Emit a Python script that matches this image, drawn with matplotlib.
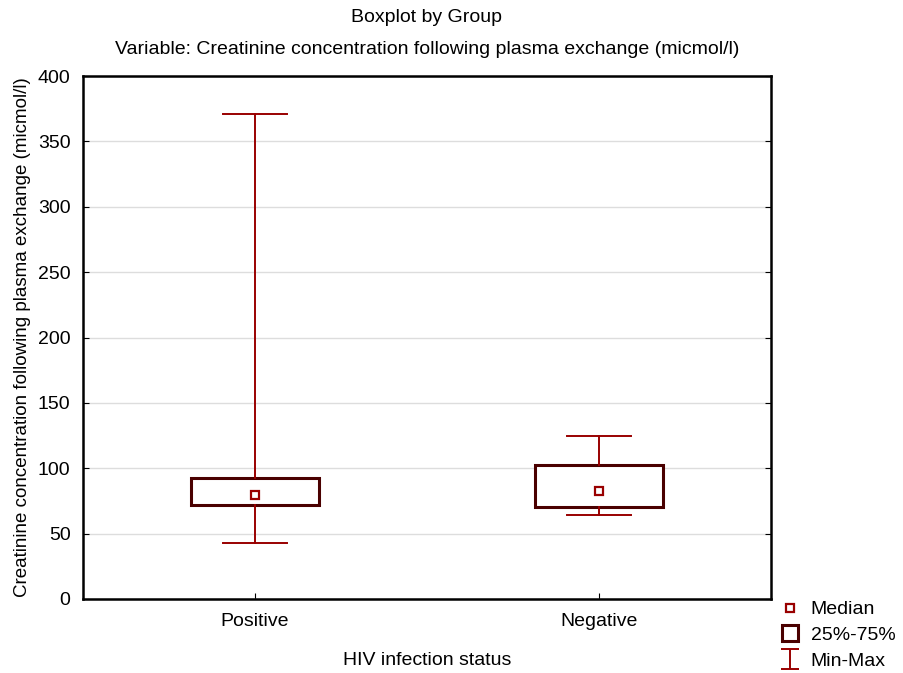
import matplotlib.pyplot as plt
from matplotlib.lines import Line2D
from matplotlib.path import Path

plt.rcParams['font.family'] = ['Liberation Sans', 'DejaVu Sans']

# Data
groups = ['Positive', 'Negative']
q_min = [43, 64]
q1 = [72, 70]
median = [79.5, 82.5]
q3 = [92.5, 102.5]
q_max = [371, 125]

box_color = '#4a0000'
whisk_color = '#990000'
fs = 14

fig = plt.figure(figsize=(9.04, 6.73), dpi=100)
ax = fig.add_axes([0.0918, 0.110, 0.761, 0.777])

stats = []
for i, g in enumerate(groups):
    stats.append(dict(label=g, med=median[i], q1=q1[i], q3=q3[i],
                      whislo=q_min[i], whishi=q_max[i], fliers=[]))

positions = [0.5, 1.5]
ax.bxp(stats, positions=positions, widths=0.37, capwidths=0.186,
       showfliers=False, patch_artist=True,
       boxprops=dict(facecolor='white', edgecolor=box_color, linewidth=2.2),
       whiskerprops=dict(color=whisk_color, linewidth=1.4),
       capprops=dict(color=whisk_color, linewidth=1.4),
       medianprops=dict(linewidth=0))
ax.plot(positions, median, ls='none', marker='s', ms=6, mfc='white',
        mec=whisk_color, mew=1.6, zorder=5)

ax.set_xlim(0, 2)
ax.set_ylim(0, 400)
ax.set_yticks(range(0, 401, 50))
ax.set_xticks(positions)
ax.set_xticklabels(groups)
ax.grid(axis='y', color='#dddddd', linewidth=1)
ax.set_axisbelow(True)
for s in ax.spines.values():
    s.set_linewidth(1.8)
ax.tick_params(axis='y', which='both', left=True, right=True, direction='in',
               length=4, labelsize=fs, pad=9)
ax.tick_params(axis='x', direction='in', length=4, labelsize=fs, pad=10)

ax.set_xlabel('HIV infection status', fontsize=fs, labelpad=16)
ax.set_ylabel('Creatinine concentration following plasma exchange (micmol/l)',
              fontsize=13.5, labelpad=5)
cx = 0.0918 + 0.761 / 2
fig.text(cx, 1 - 18 / 673, 'Boxplot by Group',
         ha='center', va='center', fontsize=fs)
fig.text(cx, 1 - 49 / 673,
         'Variable: Creatinine concentration following plasma exchange (micmol/l)',
         ha='center', va='center', fontsize=fs)

# Legend
ibeam = Path([(-0.9, -1), (0.9, -1), (0, -1), (0, 1), (-0.9, 1), (0.9, 1)],
             [Path.MOVETO, Path.LINETO, Path.MOVETO, Path.LINETO,
              Path.MOVETO, Path.LINETO])
handles = [
    Line2D([], [], ls='none', marker='s', ms=6, mfc='white', mec=whisk_color, mew=1.6),
    Line2D([], [], ls='none', marker='s', ms=12, mfc='white', mec=box_color, mew=2.2),
    Line2D([], [], ls='none', marker=ibeam, ms=15, mfc='none', mec=whisk_color, mew=1.4),
]
fig.legend(handles, ['Median', '25%-75%', 'Min-Max'], loc='upper left',
           bbox_to_anchor=(771 / 904, 1 - 591 / 673), frameon=False,
           fontsize=fs, handlelength=1.0, handletextpad=0.55, labelspacing=0.42,
           borderpad=0)

fig.savefig('out.png', dpi=100)
